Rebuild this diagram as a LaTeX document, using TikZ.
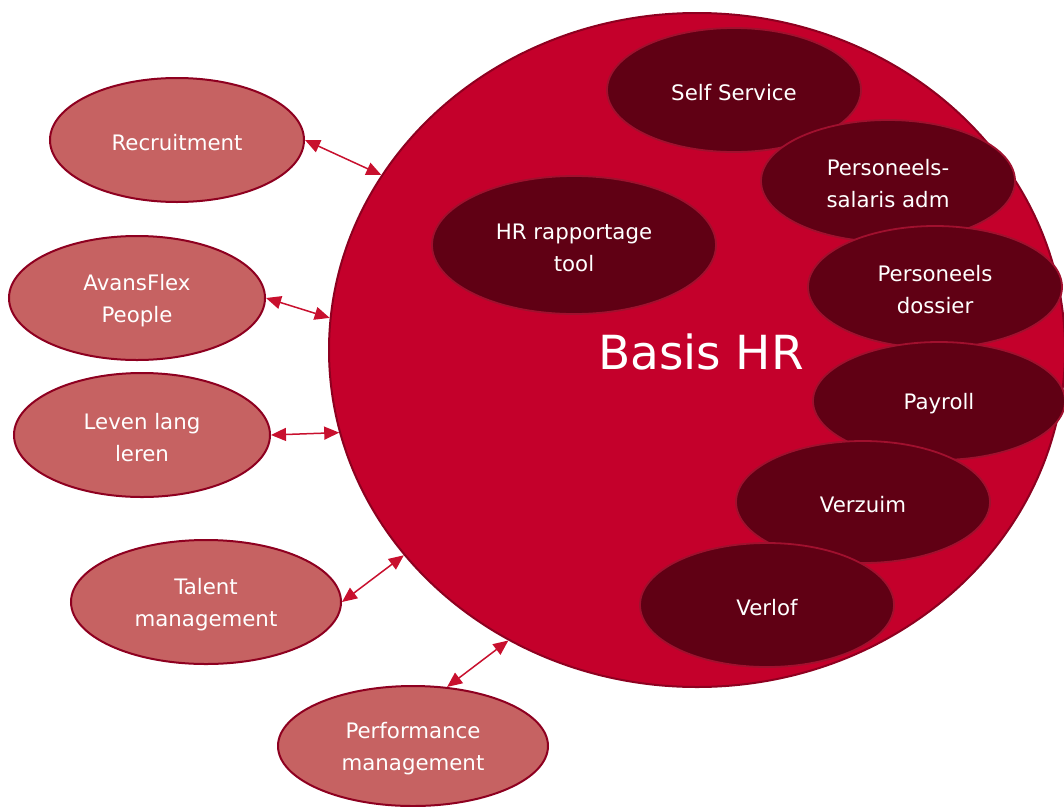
\documentclass[tikz,border=0pt]{standalone}
\usepackage{fontspec}
\setmainfont{DejaVu Sans}
\usetikzlibrary{shapes.geometric,arrows.meta}
\definecolor{bigred}{HTML}{C4002B}
\definecolor{darkin}{HTML}{600014}
\definecolor{lightout}{HTML}{C66262}
\definecolor{rim}{HTML}{8E0020}
\definecolor{inrim}{HTML}{A0102E}
\definecolor{arrowred}{HTML}{C8102E}
\tikzset{
  bigcircle/.style={ellipse, draw=rim, line width=2pt, fill=bigred, inner sep=0pt},
  innerbox/.style={ellipse, draw=inrim, line width=1.8pt, fill=darkin, inner sep=0pt},
  outerbox/.style={ellipse, draw=rim, line width=2pt, fill=lightout, inner sep=0pt},
  lbl/.style={text=white, inner sep=0pt, align=center, font=\fontsize{21.3}{32}\selectfont, yshift=-3pt},
  link/.style={draw=arrowred, line width=1.5pt, {Triangle[length=15pt,width=13pt]}-{Triangle[length=15pt,width=13pt]}}
}
\begin{document}
\begin{tikzpicture}[x=1pt,y=-1pt]
\useasboundingbox (0,0) rectangle (1064,806);
\node[bigcircle, minimum width=736pt, minimum height=674pt] (big) at (697,350) {};
\node[text=white, font=\fontsize{47}{56}\selectfont] (basis) at (701,352) {Basis HR};
% inner ellipses
\node[innerbox, minimum width=254pt, minimum height=124pt] (self) at (734,90) {};
\node[lbl] (selfl) at (self.center) {Self Service};
\node[innerbox, minimum width=254pt, minimum height=122pt] (sal) at (888,181) {};
\node[lbl] (sall) at (sal.center) {Personeels-\\salaris adm};
\node[innerbox, minimum width=284pt, minimum height=138pt] (hr) at (574,245) {};
\node[lbl] (hrl) at (hr.center) {HR rapportage\\tool};
\node[innerbox, minimum width=254pt, minimum height=122pt] (dos) at (935,287) {};
\node[lbl] (dosl) at (dos.center) {Personeels\\dossier};
\node[innerbox, minimum width=252pt, minimum height=118pt] (pay) at (939,401) {};
\node[lbl] (payl) at (pay.center) {Payroll};
\node[innerbox, minimum width=254pt, minimum height=122pt] (verz) at (863,502) {};
\node[lbl] (verzl) at (verz.center) {Verzuim};
\node[innerbox, minimum width=254pt, minimum height=124pt] (verl) at (767,605) {};
\node[lbl] (verll) at (verl.center) {Verlof};
% outer ellipses
\node[outerbox, minimum width=254pt, minimum height=124pt] (rec) at (177,140) {};
\node[lbl] (recl) at (rec.center) {Recruitment};
\node[outerbox, minimum width=256pt, minimum height=124pt] (avf) at (137,298) {};
\node[lbl] (avfl) at (avf.center) {AvansFlex\\People};
\node[outerbox, minimum width=256pt, minimum height=124pt] (lll) at (142,435) {};
\node[lbl] (llll) at (lll.center) {Leven lang\\leren};
\node[outerbox, minimum width=270pt, minimum height=124pt] (tal) at (206,602) {};
\node[lbl] (tall) at (tal.center) {Talent\\management};
\node[outerbox, minimum width=270pt, minimum height=120pt] (perf) at (413,746) {};
\node[lbl] (perfl) at (perf.center) {Performance\\management};
% connectors
\draw[link] (rec.east) -- (big.151);
\draw[link] (avf.east) -- (big.175);
\draw[link] (lll.east) -- (big.-167);
\draw[link] (tal.east) -- (big.-145.5);
\draw[link] (perf.60) -- (big.-123.4);
\end{tikzpicture}
\end{document}
